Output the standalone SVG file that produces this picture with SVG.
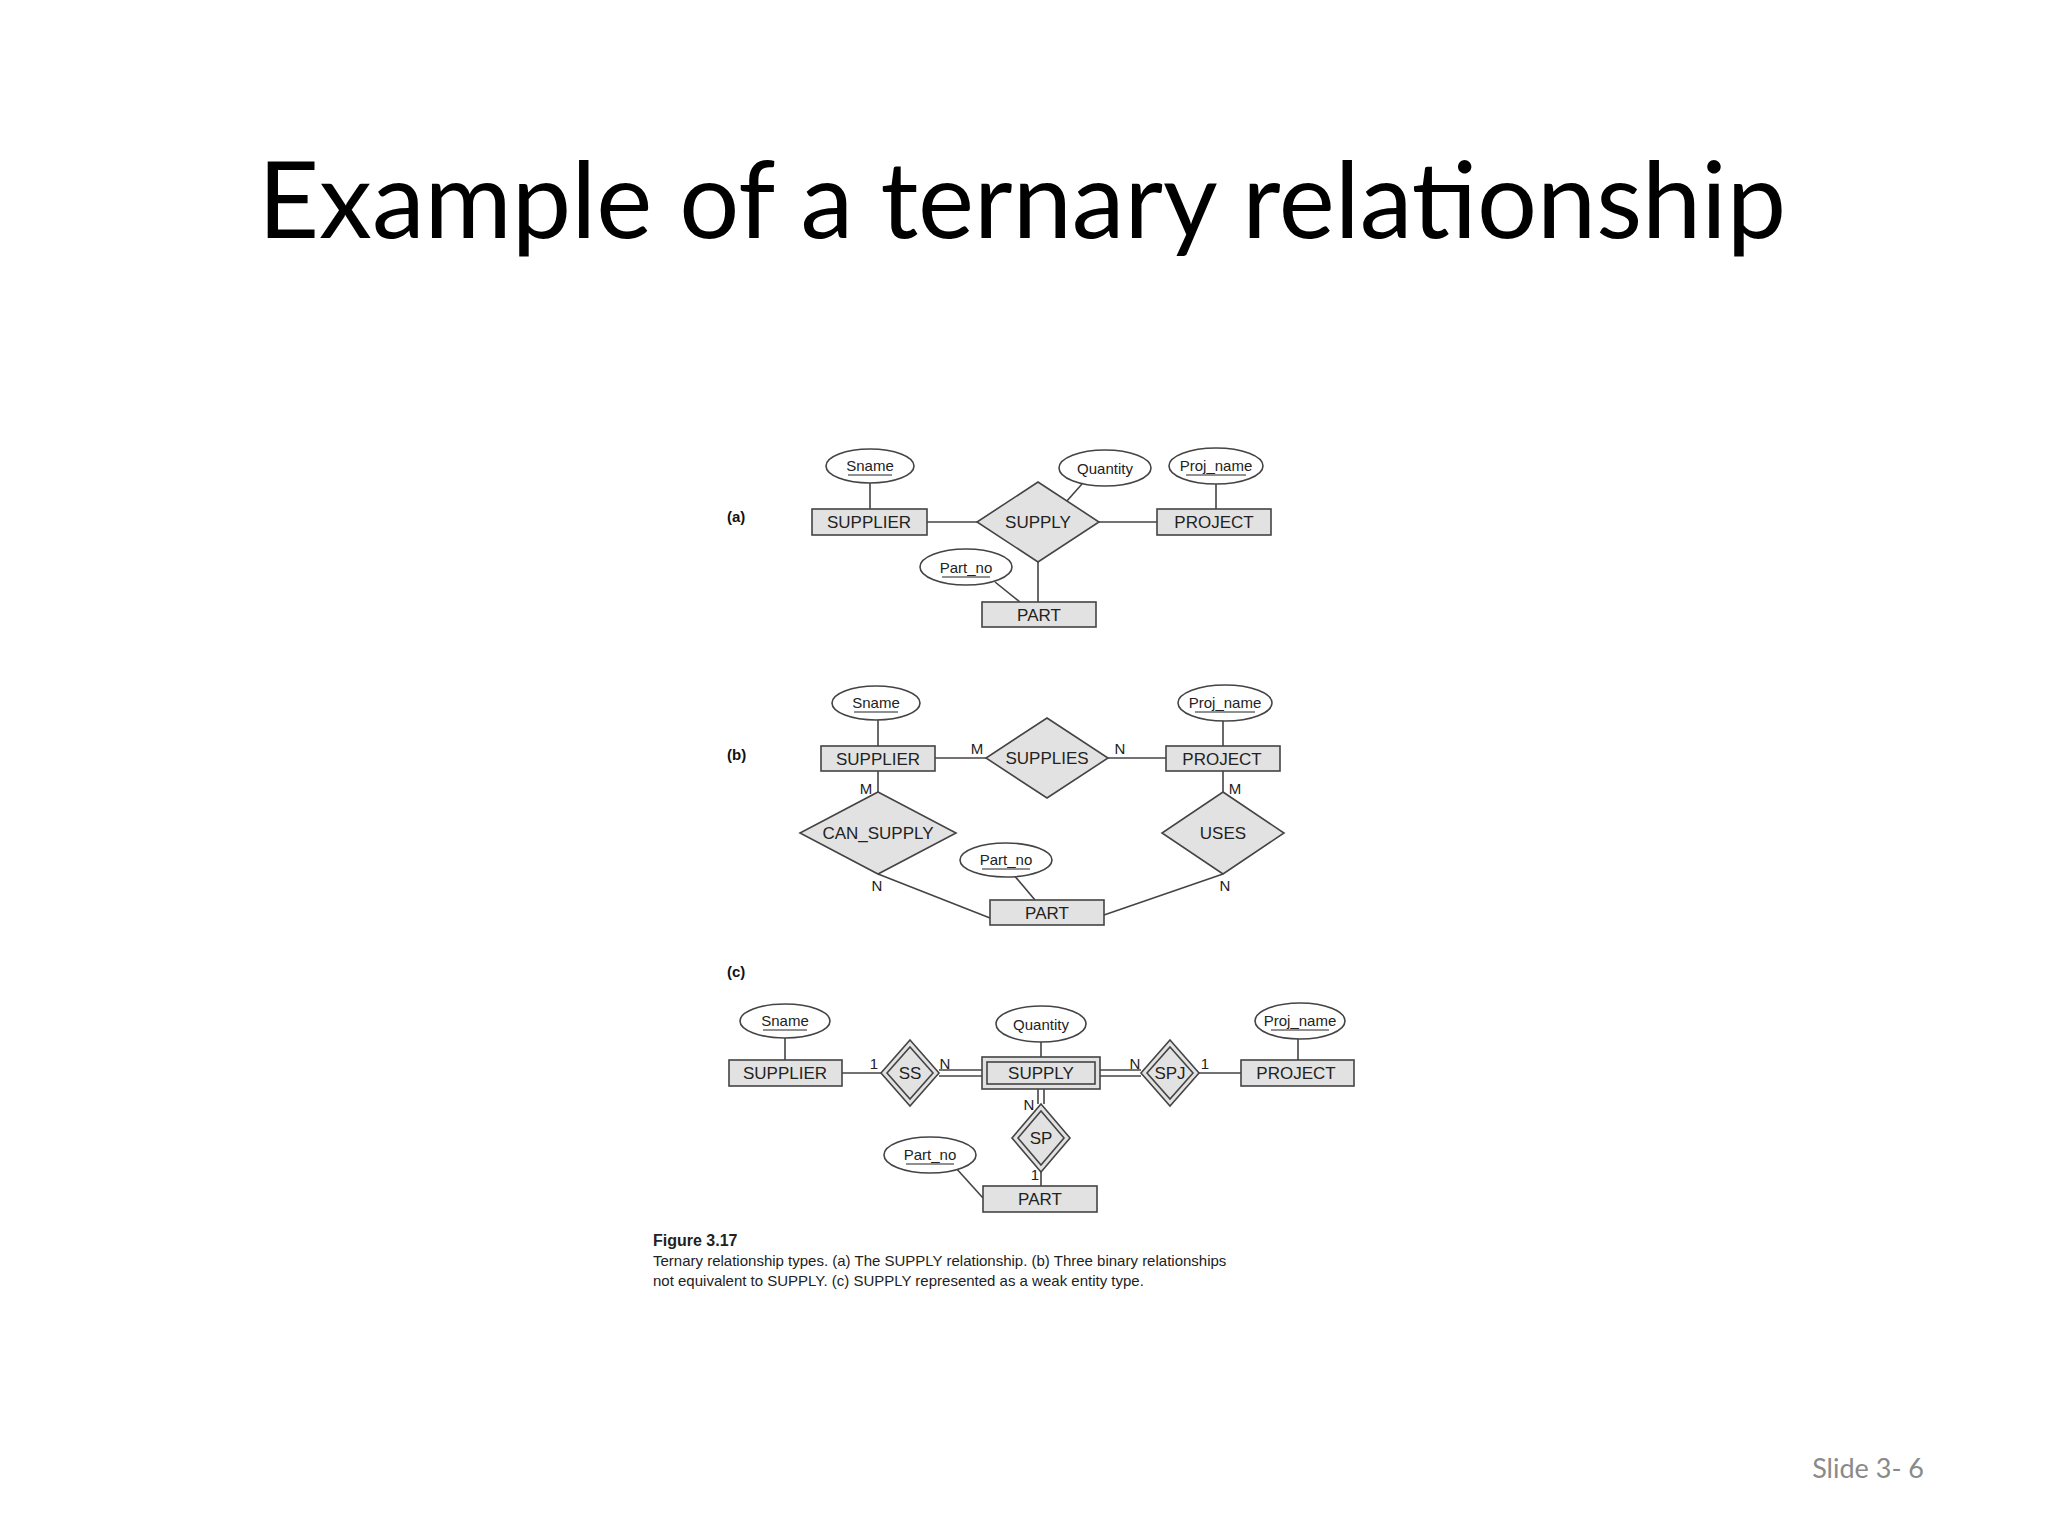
<svg xmlns="http://www.w3.org/2000/svg" width="2048" height="1536" viewBox="0 0 2048 1536">
<style>
.e{fill:#e2e2e2;stroke:#444;stroke-width:1.6}
.a{fill:#fff;stroke:#444;stroke-width:1.6}
.l{stroke:#444;stroke-width:1.6;fill:none}
.t{font-family:"Liberation Sans Narrow","Liberation Sans",Arial,sans-serif;font-size:17px;fill:#222;text-anchor:middle}
.u{stroke:#222;stroke-width:1.2}
.c{font-family:"Liberation Sans Narrow","Liberation Sans",Arial,sans-serif;font-size:15px;fill:#222;text-anchor:middle}
.lb{font-family:"Liberation Sans",Arial,sans-serif;font-size:15px;font-weight:bold;fill:#111}
</style>
<rect width="2048" height="1536" fill="#fff"/>
<text x="1022" y="238" font-family="Lato,'Open Sans',sans-serif" font-size="106" text-anchor="middle" fill="#000">Example of a ternary relationship</text>
<text x="1924" y="1478" font-family="Lato,'Open Sans',sans-serif" font-size="27" text-anchor="end" fill="#8a8a8a">Slide 3- 6</text>

<g id="connectors">
<!-- a -->
<line class="l" x1="870" y1="483" x2="870" y2="509"/>
<line class="l" x1="927" y1="522" x2="977" y2="522"/>
<line class="l" x1="1099" y1="522" x2="1157" y2="522"/>
<line class="l" x1="1216" y1="484" x2="1216" y2="509"/>
<line class="l" x1="1082" y1="484" x2="1066" y2="502"/>
<line class="l" x1="1038" y1="562" x2="1038" y2="602"/>
<line class="l" x1="995" y1="582" x2="1020" y2="602"/>
<!-- b -->
<line class="l" x1="878" y1="720" x2="878" y2="746"/>
<line class="l" x1="935" y1="758" x2="986" y2="758"/>
<line class="l" x1="1108" y1="758" x2="1166" y2="758"/>
<line class="l" x1="1223" y1="720" x2="1223" y2="746"/>
<line class="l" x1="878" y1="771" x2="878" y2="792"/>
<line class="l" x1="1223" y1="771" x2="1223" y2="792"/>
<polyline class="l" points="878,874 990,918"/>
<polyline class="l" points="1104,915 1223,874"/>
<line class="l" x1="1013" y1="874" x2="1035" y2="900"/>
<!-- c -->
<line class="l" x1="785" y1="1037" x2="785" y2="1060"/>
<line class="l" x1="842" y1="1073" x2="881" y2="1073"/>
<line class="l" x1="939" y1="1070" x2="982" y2="1070"/>
<line class="l" x1="939" y1="1076" x2="982" y2="1076"/>
<line class="l" x1="1041" y1="1041" x2="1041" y2="1057"/>
<line class="l" x1="1100" y1="1070" x2="1141" y2="1070"/>
<line class="l" x1="1100" y1="1076" x2="1141" y2="1076"/>
<line class="l" x1="1199" y1="1073" x2="1241" y2="1073"/>
<line class="l" x1="1298" y1="1037" x2="1298" y2="1060"/>
<line class="l" x1="1038" y1="1089" x2="1038" y2="1104"/>
<line class="l" x1="1044" y1="1089" x2="1044" y2="1104"/>
<line class="l" x1="1041" y1="1172" x2="1041" y2="1186"/>
<line class="l" x1="955" y1="1167" x2="983" y2="1198"/>
</g>

<g id="labels-a"><text class="lb" x="727" y="522">(a)</text></g>
<g id="a-sname"><ellipse class="a" cx="870" cy="466" rx="44" ry="17"/><text class="c" x="870" y="471">Sname</text><line class="u" x1="848" y1="475" x2="892" y2="475"/></g>
<g id="a-supplier"><rect class="e" x="812" y="509" width="115" height="26"/><text class="t" x="869" y="528">SUPPLIER</text></g>
<g id="a-supply"><polygon class="e" points="1038,482 1099,522 1038,562 977,522"/><text class="t" x="1038" y="528">SUPPLY</text></g>
<g id="a-quantity"><ellipse class="a" cx="1105" cy="468" rx="46" ry="18"/><text class="c" x="1105" y="474">Quantity</text></g>
<g id="a-projname"><ellipse class="a" cx="1216" cy="466" rx="47" ry="18"/><text class="c" x="1216" y="471">Proj_name</text><line class="u" x1="1186" y1="475" x2="1246" y2="475"/></g>
<g id="a-project"><rect class="e" x="1157" y="509" width="114" height="26"/><text class="t" x="1214" y="528">PROJECT</text></g>
<g id="a-partno"><ellipse class="a" cx="966" cy="567" rx="46" ry="18"/><text class="c" x="966" y="573">Part_no</text><line class="u" x1="942" y1="577" x2="990" y2="577"/></g>
<g id="a-part"><rect class="e" x="982" y="602" width="114" height="25"/><text class="t" x="1039" y="621">PART</text></g>

<g id="labels-b"><text class="lb" x="727" y="760">(b)</text></g>
<g id="b-sname"><ellipse class="a" cx="876" cy="703" rx="44" ry="17"/><text class="c" x="876" y="708">Sname</text><line class="u" x1="854" y1="712" x2="898" y2="712"/></g>
<g id="b-supplier"><rect class="e" x="821" y="746" width="114" height="25"/><text class="t" x="878" y="765">SUPPLIER</text></g>
<g id="b-supplies"><polygon class="e" points="1047,718 1108,758 1047,798 986,758"/><text class="t" x="1047" y="764">SUPPLIES</text></g>
<g id="b-projname"><ellipse class="a" cx="1225" cy="703" rx="47" ry="18"/><text class="c" x="1225" y="708">Proj_name</text><line class="u" x1="1195" y1="712" x2="1255" y2="712"/></g>
<g id="b-project"><rect class="e" x="1166" y="746" width="114" height="25"/><text class="t" x="1222" y="765">PROJECT</text></g>
<g id="b-cansupply"><polygon class="e" points="878,792 956,833 878,874 800,833"/><text class="t" x="878" y="839">CAN_SUPPLY</text></g>
<g id="b-uses"><polygon class="e" points="1223,792 1284,833 1223,874 1162,833"/><text class="t" x="1223" y="839">USES</text></g>
<g id="b-partno"><ellipse class="a" cx="1006" cy="860" rx="46" ry="17"/><text class="c" x="1006" y="865">Part_no</text><line class="u" x1="982" y1="869" x2="1030" y2="869"/></g>
<g id="b-part"><rect class="e" x="990" y="900" width="114" height="25"/><text class="t" x="1047" y="919">PART</text></g>
<g id="b-card" class="c">
<text class="c" x="977" y="754">M</text><text class="c" x="1120" y="754">N</text>
<text class="c" x="866" y="794">M</text><text class="c" x="1235" y="794">M</text>
<text class="c" x="877" y="891">N</text><text class="c" x="1225" y="891">N</text>
</g>

<g id="labels-c"><text class="lb" x="727" y="977">(c)</text></g>
<g id="c-sname"><ellipse class="a" cx="785" cy="1021" rx="45" ry="17"/><text class="c" x="785" y="1026">Sname</text><line class="u" x1="763" y1="1030" x2="807" y2="1030"/></g>
<g id="c-supplier"><rect class="e" x="729" y="1060" width="113" height="26"/><text class="t" x="785" y="1079">SUPPLIER</text></g>
<g id="c-ss"><polygon class="e" points="910,1040 939,1073 910,1106 881,1073"/><polygon class="l" points="910,1047 933,1073 910,1099 887,1073"/><text class="t" x="910" y="1079">SS</text></g>
<g id="c-supply"><rect class="e" x="982" y="1057" width="118" height="32"/><rect class="l" x="987" y="1062" width="108" height="22"/><text class="t" x="1041" y="1079">SUPPLY</text></g>
<g id="c-quantity"><ellipse class="a" cx="1041" cy="1024" rx="45" ry="18"/><text class="c" x="1041" y="1030">Quantity</text></g>
<g id="c-spj"><polygon class="e" points="1170,1040 1199,1073 1170,1106 1141,1073"/><polygon class="l" points="1170,1047 1193,1073 1170,1099 1147,1073"/><text class="t" x="1170" y="1079">SPJ</text></g>
<g id="c-projname"><ellipse class="a" cx="1300" cy="1021" rx="45" ry="18"/><text class="c" x="1300" y="1026">Proj_name</text><line class="u" x1="1271" y1="1030" x2="1329" y2="1030"/></g>
<g id="c-project"><rect class="e" x="1241" y="1060" width="113" height="26"/><text class="t" x="1296" y="1079">PROJECT</text></g>
<g id="c-sp"><polygon class="e" points="1041,1104 1070,1138 1041,1172 1012,1138"/><polygon class="l" points="1041,1111 1064,1138 1041,1165 1018,1138"/><text class="t" x="1041" y="1144">SP</text></g>
<g id="c-partno"><ellipse class="a" cx="930" cy="1155" rx="46" ry="18"/><text class="c" x="930" y="1160">Part_no</text><line class="u" x1="906" y1="1164" x2="954" y2="1164"/></g>
<g id="c-part"><rect class="e" x="983" y="1186" width="114" height="26"/><text class="t" x="1040" y="1205">PART</text></g>
<g id="c-card">
<text class="c" x="874" y="1069">1</text><text class="c" x="945" y="1069">N</text>
<text class="c" x="1135" y="1069">N</text><text class="c" x="1205" y="1069">1</text>
<text class="c" x="1029" y="1110">N</text><text class="c" x="1035" y="1180">1</text>
</g>

<g id="caption" font-family="'Liberation Sans Narrow','Liberation Sans',Arial,sans-serif" fill="#222">
<text x="653" y="1246" font-size="16" font-weight="bold">Figure 3.17</text>
<text x="653" y="1266" font-size="15">Ternary relationship types. (a) The SUPPLY relationship. (b) Three binary relationships</text>
<text x="653" y="1286" font-size="15">not equivalent to SUPPLY. (c) SUPPLY represented as a weak entity type.</text>
</g>
</svg>
